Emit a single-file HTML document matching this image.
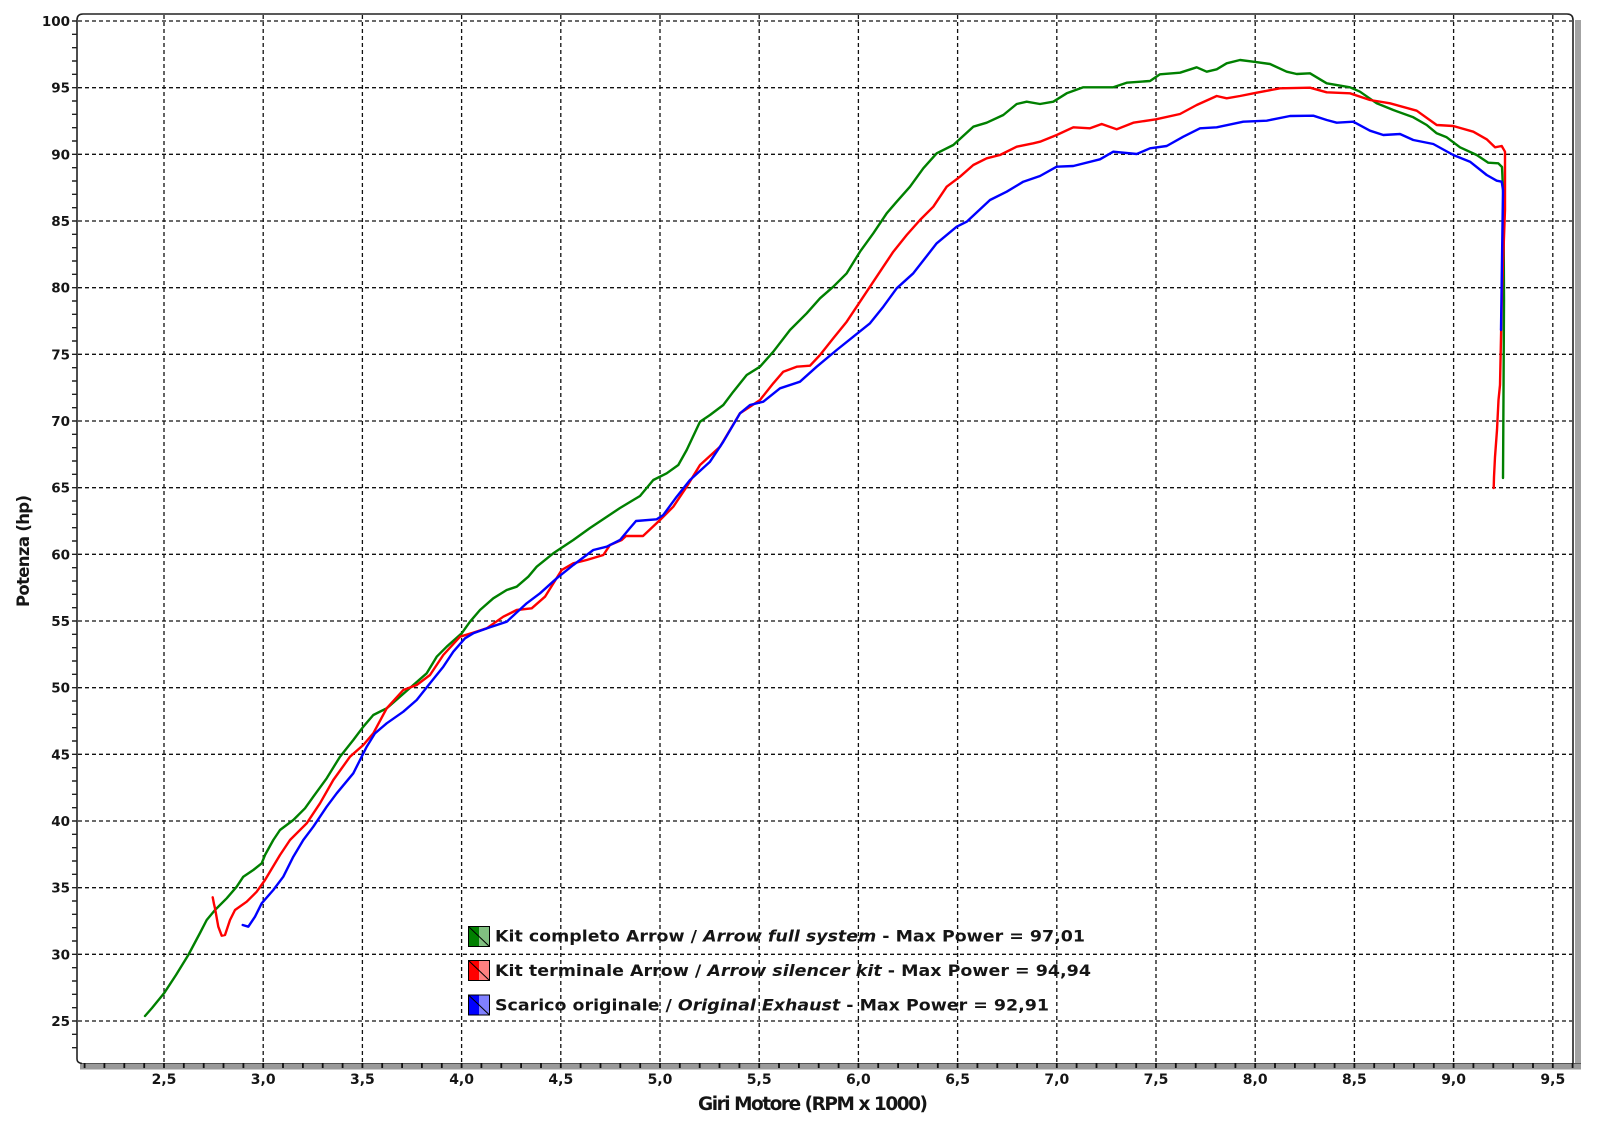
<!DOCTYPE html>
<html><head><meta charset="utf-8"><style>
html,body{margin:0;padding:0;background:#fff;}
svg{display:block;}
text{font-family:"DejaVu Sans","Liberation Sans",sans-serif;font-weight:bold;fill:#151515;}
</style></head><body>
<svg width="1600" height="1126" viewBox="0 0 1600 1126" xmlns="http://www.w3.org/2000/svg">
<rect width="1600" height="1126" fill="#fff"/>
<!-- right shadow & bottom bar -->
<rect x="1575" y="20" width="6" height="1049" fill="#a3a3a3"/>
<rect x="80" y="1063" width="1501" height="6.5" fill="#9a9a9a"/>
<line x1="80" y1="1063.5" x2="1581" y2="1063.5" stroke="#555" stroke-width="1"/>
<!-- grid -->
<g stroke="#111" stroke-width="1.3" stroke-dasharray="4,3" fill="none">
<line x1="164" y1="15" x2="164" y2="1063"/><line x1="263.2" y1="15" x2="263.2" y2="1063"/><line x1="362.4" y1="15" x2="362.4" y2="1063"/><line x1="461.6" y1="15" x2="461.6" y2="1063"/><line x1="560.8" y1="15" x2="560.8" y2="1063"/><line x1="660" y1="15" x2="660" y2="1063"/><line x1="759.2" y1="15" x2="759.2" y2="1063"/><line x1="858.4" y1="15" x2="858.4" y2="1063"/><line x1="957.6" y1="15" x2="957.6" y2="1063"/><line x1="1056.8" y1="15" x2="1056.8" y2="1063"/><line x1="1156" y1="15" x2="1156" y2="1063"/><line x1="1255.2" y1="15" x2="1255.2" y2="1063"/><line x1="1354.4" y1="15" x2="1354.4" y2="1063"/><line x1="1453.6" y1="15" x2="1453.6" y2="1063"/><line x1="1552.8" y1="15" x2="1552.8" y2="1063"/>
<line x1="78" y1="21" x2="1572" y2="21"/><line x1="78" y1="87.67" x2="1572" y2="87.67"/><line x1="78" y1="154.33" x2="1572" y2="154.33"/><line x1="78" y1="221" x2="1572" y2="221"/><line x1="78" y1="287.67" x2="1572" y2="287.67"/><line x1="78" y1="354.33" x2="1572" y2="354.33"/><line x1="78" y1="421" x2="1572" y2="421"/><line x1="78" y1="487.67" x2="1572" y2="487.67"/><line x1="78" y1="554.33" x2="1572" y2="554.33"/><line x1="78" y1="621" x2="1572" y2="621"/><line x1="78" y1="687.67" x2="1572" y2="687.67"/><line x1="78" y1="754.33" x2="1572" y2="754.33"/><line x1="78" y1="821" x2="1572" y2="821"/><line x1="78" y1="887.67" x2="1572" y2="887.67"/><line x1="78" y1="954.33" x2="1572" y2="954.33"/><line x1="78" y1="1021" x2="1572" y2="1021"/>
</g>
<!-- frame -->
<path d="M77,1059 L77,20 Q77,14 83,14 L1567,14 Q1573,14 1573,20 L1573,1063 M77,1059 Q77,1063 82,1063.5" fill="none" stroke="#222" stroke-width="1.6"/>
<!-- y ticks -->
<g stroke="#222" stroke-width="1.4">
<path d="M72,21H77M72,34.33H77M72,47.67H77M72,61H77M72,74.33H77M72,87.67H77M72,101H77M72,114.33H77M72,127.67H77M72,141H77M72,154.33H77M72,167.67H77M72,181H77M72,194.33H77M72,207.67H77M72,221H77M72,234.33H77M72,247.67H77M72,261H77M72,274.33H77M72,287.67H77M72,301H77M72,314.33H77M72,327.67H77M72,341H77M72,354.33H77M72,367.67H77M72,381H77M72,394.33H77M72,407.67H77M72,421H77M72,434.33H77M72,447.67H77M72,461H77M72,474.33H77M72,487.67H77M72,501H77M72,514.33H77M72,527.67H77M72,541H77M72,554.33H77M72,567.67H77M72,581H77M72,594.33H77M72,607.67H77M72,621H77M72,634.33H77M72,647.67H77M72,661H77M72,674.33H77M72,687.67H77M72,701H77M72,714.33H77M72,727.67H77M72,741H77M72,754.33H77M72,767.67H77M72,781H77M72,794.33H77M72,807.67H77M72,821H77M72,834.33H77M72,847.67H77M72,861H77M72,874.33H77M72,887.67H77M72,901H77M72,914.33H77M72,927.67H77M72,941H77M72,954.33H77M72,967.67H77M72,981H77M72,994.33H77M72,1007.67H77M72,1021H77M72,1034.33H77M72,1047.67H77"/>
</g>
<!-- x ticks -->
<g stroke="#111" stroke-width="1.8">
<path d="M84.6,1063V1068M104.4,1063V1068M124.3,1063V1068M144.2,1063V1068M164,1063V1068M183.8,1063V1068M203.7,1063V1068M223.5,1063V1068M243.4,1063V1068M263.2,1063V1068M283,1063V1068M302.9,1063V1068M322.7,1063V1068M342.6,1063V1068M362.4,1063V1068M382.2,1063V1068M402.1,1063V1068M421.9,1063V1068M441.8,1063V1068M461.6,1063V1068M481.4,1063V1068M501.3,1063V1068M521.1,1063V1068M541,1063V1068M560.8,1063V1068M580.6,1063V1068M600.5,1063V1068M620.3,1063V1068M640.2,1063V1068M660,1063V1068M679.8,1063V1068M699.7,1063V1068M719.5,1063V1068M739.4,1063V1068M759.2,1063V1068M779,1063V1068M798.9,1063V1068M818.7,1063V1068M838.6,1063V1068M858.4,1063V1068M878.2,1063V1068M898.1,1063V1068M917.9,1063V1068M937.8,1063V1068M957.6,1063V1068M977.4,1063V1068M997.3,1063V1068M1017.1,1063V1068M1037,1063V1068M1056.8,1063V1068M1076.6,1063V1068M1096.5,1063V1068M1116.3,1063V1068M1136.2,1063V1068M1156,1063V1068M1175.8,1063V1068M1195.7,1063V1068M1215.5,1063V1068M1235.4,1063V1068M1255.2,1063V1068M1275,1063V1068M1294.9,1063V1068M1314.7,1063V1068M1334.6,1063V1068M1354.4,1063V1068M1374.2,1063V1068M1394.1,1063V1068M1413.9,1063V1068M1433.8,1063V1068M1453.6,1063V1068M1473.4,1063V1068M1493.3,1063V1068M1513.1,1063V1068M1533,1063V1068M1552.8,1063V1068M1572.6,1063V1068"/>
</g>
<!-- y labels -->
<g font-size="13.5" text-anchor="end">
<text x="70" y="26">100</text><text x="70" y="92.7">95</text><text x="70" y="159.3">90</text><text x="70" y="226">85</text><text x="70" y="292.7">80</text><text x="70" y="359.3">75</text><text x="70" y="426">70</text><text x="70" y="492.7">65</text><text x="70" y="559.3">60</text><text x="70" y="626">55</text><text x="70" y="692.7">50</text><text x="70" y="759.3">45</text><text x="70" y="826">40</text><text x="70" y="892.7">35</text><text x="70" y="959.3">30</text><text x="70" y="1026">25</text>
</g>
<!-- x labels -->
<g font-size="14" text-anchor="middle">
<text x="164" y="1084">2,5</text><text x="263.2" y="1084">3,0</text><text x="362.4" y="1084">3,5</text><text x="461.6" y="1084">4,0</text><text x="560.8" y="1084">4,5</text><text x="660" y="1084">5,0</text><text x="759.2" y="1084">5,5</text><text x="858.4" y="1084">6,0</text><text x="957.6" y="1084">6,5</text><text x="1056.8" y="1084">7,0</text><text x="1156" y="1084">7,5</text><text x="1255.2" y="1084">8,0</text><text x="1354.4" y="1084">8,5</text><text x="1453.6" y="1084">9,0</text><text x="1552.8" y="1084">9,5</text>
</g>
<!-- axis titles -->
<text x="698" y="1110" font-size="18.5" textLength="230" lengthAdjust="spacing">Giri Motore (RPM x 1000)</text>
<text transform="translate(29,607) rotate(-90)" x="0" y="0" font-size="16.5" textLength="112" lengthAdjust="spacing">Potenza (hp)</text>
<!-- curves -->
<g fill="none" stroke-width="2.4" stroke-linejoin="round" stroke-linecap="round">
<polyline stroke="#008000" points="145,1016 152,1008 164,993.3 176,975 188.3,955 200,933 206.7,920 215,910 226.7,898.3 236.7,886.7 243.3,876.7 253.3,870 261.7,863.3 265,855 273.3,840 280,830 293.3,820 305,808.3 313.3,796.7 326.7,778.3 340,756.7 353.3,740 363.3,726.7 373.3,715 386.7,708.3 400,696.7 413.3,685 426.7,673.3 436.7,656.7 446.7,646.7 461.7,633.3 470,621.7 480,610 493.3,598.3 506.7,590 516.7,586.7 528.3,576.7 536.7,566.7 553.3,553.3 573.3,540 590,528 605,518 620,508 640,496 653.3,480 666.7,473.3 678.3,465 686.7,450 700,421.7 710,415 723.3,405 733.3,391.7 746.7,375 760,366.7 773.3,351.7 790,330 806.7,313.3 820,298.3 833.3,286.7 846.7,273.3 860,251.7 873.3,233.3 886.7,213.3 896.7,201.7 910,186.7 923.3,168.3 936.7,153.3 953.3,145 973.3,126.7 986.7,122.7 1003.3,115 1016.7,104 1026.7,101.7 1040,104 1053.3,101.7 1066.7,93.3 1083.3,87.3 1113.3,87.3 1126.7,82.7 1150,81 1160,74.3 1180,72.7 1196.7,67.3 1206.7,71.7 1216.7,69.3 1226.7,63.3 1240,60 1253.3,61.7 1270,64 1286.7,71.7 1296.7,74 1310,73.3 1326.7,83.3 1350,87.3 1360,91.7 1376.7,103.3 1393.3,110 1413.3,117.3 1426.7,125 1436.7,133.3 1446.7,137.3 1460,147.3 1476.7,155 1488.3,162.7 1498.3,163.3 1502,167 1503.5,200 1504,300 1503.5,395 1503,478"/>
<polyline stroke="#ff0000" points="212.7,897.3 214,904 215,908.3 218.3,926.7 221.7,935.7 225,935 230,920 235,910 246.7,901.7 256.7,891.7 265,880 280,855 290,840 306.7,823.3 320,803.3 333.3,780 350,756.7 363.3,745 373.3,733.3 386.7,708.3 403.3,690 416.7,685 430,675 443.3,655 460,636.7 473.3,632.7 486.7,628.3 503.3,616.7 516.7,610 531.7,608.3 545,596.7 561.7,570 573.3,563.3 586.7,560 603.3,555 610,545 621.7,540 626,536 643,536 660,520 673.3,506.7 686.7,486.7 700,465 720,446.7 740,413.3 750,406.7 760,400 773.3,383.3 783.3,371.7 796.7,366.7 810,365.7 820,355 833.3,338.3 846.7,321.7 856.7,306.7 870,286.7 883.3,266.7 893.3,251.7 906.7,235 920,220 933.3,206.7 946.7,186.7 960,176.7 973.3,165 986.7,158.3 1000,155 1016.7,146.7 1033.3,143.3 1040,141.7 1056.7,135 1073.3,127.3 1090,128.3 1101.7,124 1116.7,129.3 1133.3,122.7 1156,119.3 1180,114 1196.7,105 1216.7,96 1226.7,98.3 1240,96 1256.7,92.7 1280,88.3 1310,87.7 1326.7,92.3 1350,93.3 1370,100 1390,103.3 1416.7,110.7 1436.7,125 1453.3,126 1473.3,131.7 1486.7,139.3 1495,147.3 1501.7,146 1505,151.7 1505,210 1502,290 1500,385 1498.5,400 1497,430 1495,457 1494,477 1493.7,488"/>
<polyline stroke="#0000ff" points="242.7,925 248.3,926.7 255,916.7 261.7,903.3 273.3,890 283.3,876.7 293.3,856.7 303.3,840 313.3,826.7 326.7,806.7 336.7,793.3 353.3,773.3 360,760 366.7,746.7 375,733.3 386.7,723.3 403.3,711.7 416.7,700 430,683.3 443.3,666.7 453.3,651.7 465,638.3 473.3,633.3 490,627.3 506.7,621.7 526.7,603.3 540,593.3 556.7,578.3 573.3,565 593.3,550 606.7,546.7 620,540 630,528 636,521 656.7,519.3 663.3,515 676.7,496.7 690,480 710,461.7 723.3,441.7 740,413.3 750,405 763.3,401.7 780,388.3 800,381.7 816.7,366.7 836.7,350 853.3,336.7 870,323.3 883.3,306.7 896.7,288.3 913.3,273.3 936.7,243.3 956.7,226.7 966.7,221.7 990,200 1006.7,191.7 1023.3,181.7 1040,176 1056.7,166.7 1073.3,166 1100,159.3 1113.3,151.7 1136.7,154 1150,148.3 1166.7,146 1183.3,136.7 1200,128.3 1216.7,127.3 1243.3,121.7 1266.7,120.7 1290,116 1313.3,115.7 1326.7,120 1336.7,122.7 1353.3,121.7 1370,130.7 1383.3,135 1400,134 1413.3,140 1433.3,144 1453.3,155 1470,161.7 1486.7,175 1496.7,180.7 1501.7,181.7 1503,190 1502,260 1501,330"/>
</g>
<!-- legend -->
<g stroke="#000" stroke-width="1">
<rect x="468.5" y="926.5" width="10.5" height="20" fill="#008000" stroke="none"/><rect x="479" y="926.5" width="10.5" height="20" fill="#80c080" stroke="none"/>
<line x1="468.5" y1="926.5" x2="489.5" y2="946.5"/><rect x="468.5" y="926.5" width="21" height="20" fill="none"/>
<rect x="468.5" y="960.5" width="10.5" height="20" fill="#ff0000" stroke="none"/><rect x="479" y="960.5" width="10.5" height="20" fill="#ff8080" stroke="none"/>
<line x1="468.5" y1="960.5" x2="489.5" y2="980.5"/><rect x="468.5" y="960.5" width="21" height="20" fill="none"/>
<rect x="468.5" y="995" width="10.5" height="20" fill="#0000ff" stroke="none"/><rect x="479" y="995" width="10.5" height="20" fill="#8080ff" stroke="none"/>
<line x1="468.5" y1="995" x2="489.5" y2="1015"/><rect x="468.5" y="995" width="21" height="20" fill="none"/>
</g>
<g font-size="16">
<text x="495" y="941.7" textLength="590" lengthAdjust="spacingAndGlyphs">Kit completo Arrow / <tspan font-style="italic">Arrow full system</tspan> - Max Power = 97,01</text>
<text x="495" y="976" textLength="596" lengthAdjust="spacingAndGlyphs">Kit terminale Arrow / <tspan font-style="italic">Arrow silencer kit</tspan> - Max Power = 94,94</text>
<text x="495" y="1010.7" textLength="554" lengthAdjust="spacingAndGlyphs">Scarico originale / <tspan font-style="italic">Original Exhaust</tspan> - Max Power = 92,91</text>
</g>
</svg>
</body></html>
